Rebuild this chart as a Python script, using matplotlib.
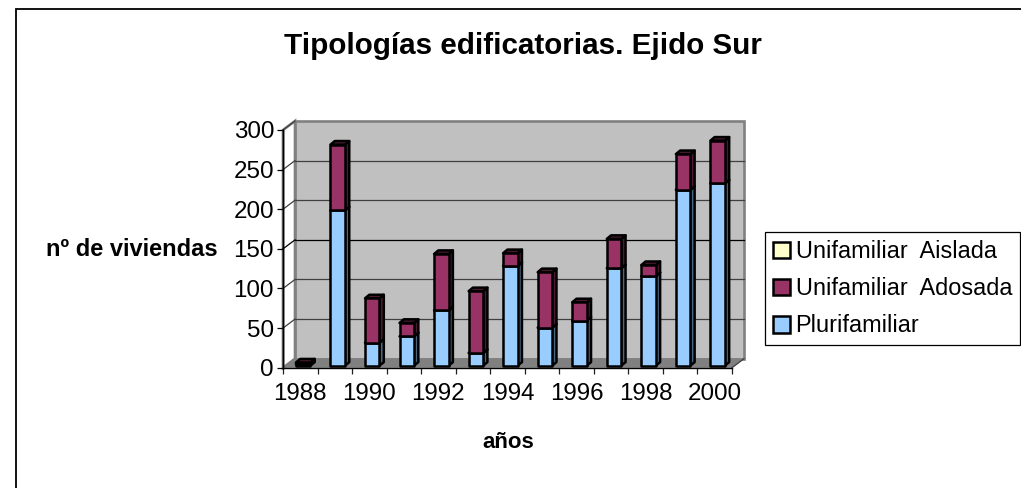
import matplotlib
matplotlib.use("Agg")
import matplotlib.pyplot as plt
from matplotlib.patches import Polygon, Rectangle, Patch
from matplotlib.transforms import IdentityTransform

plt.rcParams['font.family'] = ['Liberation Sans', 'DejaVu Sans']

years = list(range(1988, 2001))
plurifamiliar = [2, 196, 29, 37, 70, 16, 126, 48, 57, 123, 113, 222, 230]
adosada = [2, 83, 56, 17, 71, 78, 16, 70, 23, 37, 14, 45, 54]
aislada = [0] * 13
series = [("Plurifamiliar", plurifamiliar, "#99CCFF", "#4D6680"),
          ("Unifamiliar  Adosada", adosada, "#993366", "#4D1A33"),
          ("Unifamiliar  Aislada", aislada, "#FFFFCC", "#808066")]
y_ticks = [0, 50, 100, 150, 200, 250, 300]

W, H = 1021, 488
fig = plt.figure(figsize=(W / 100, H / 100), dpi=100, facecolor="white")
px = IdentityTransform()

# axes covers the front plane of the 3D box
L, R, T, B = 283, 732, 130, 367.7
ax = fig.add_axes([L / W, 1 - B / H, (R - L) / W, (B - T) / H])
ax.set_xlim(0, 13)
ax.set_ylim(0, 300)
ax.patch.set_visible(False)
for s in ("top", "right"):
    ax.spines[s].set_visible(False)
for s in ("left", "bottom"):
    ax.spines[s].set_linewidth(1.0)
    ax.spines[s].set_color("black")
    ax.spines[s].set_zorder(6)

WX, WY = 12, 9  # wall depth in pixels


def disp(x, y):
    return ax.transData.transform((x, y))


x0, y0 = disp(0, 0)
x1, y1 = disp(13, 300)
# back wall, floor and side wall
ax.add_patch(Polygon([(x0 + WX, y0 + WY), (x1 + WX, y0 + WY), (x1 + WX, y1 + WY), (x0 + WX, y1 + WY)],
                     closed=True, transform=px, fc="#C0C0C0", ec="#808080", lw=1.9, zorder=1, clip_on=False))
ax.add_patch(Polygon([(x0, y0), (x1, y0), (x1 + WX, y0 + WY), (x0 + WX, y0 + WY)],
                     closed=True, transform=px, fc="#808080", ec="#808080", lw=0.5, zorder=2, clip_on=False))
ax.add_patch(Polygon([(x0, y0), (x0 + WX, y0 + WY), (x0 + WX, y1 + WY), (x0, y1)],
                     closed=True, transform=px, fc="white", ec="#808080", lw=1.9, zorder=1, clip_on=False))
ax.plot([x0, x0], [y0, y1], color="black", lw=1.0, transform=px, zorder=6, clip_on=False)
# gridlines
for t in y_ticks[1:]:
    xa, ya = disp(0, t)
    xb, yb = disp(13, t)
    col = "black" if t == 150 else "#404040"
    if t < 300:
        ax.plot([xa + WX, xb + WX], [ya + WY, yb + WY], color=col, lw=0.9, transform=px, zorder=2, clip_on=False)
    ax.plot([xa, xa + WX], [ya, ya + WY], color=col, lw=0.9, transform=px, zorder=2, clip_on=False)
xa, ya = disp(13, 0)
ax.plot([xa, xa + WX], [ya, ya + WY], color="#404040", lw=0.9, transform=px, zorder=3, clip_on=False)

# bars: front face offset and depth in pixels
OX, OY = 2.9, 2.0
BW = 14.5
DX, DY = 4.3, 3.6
bottoms = [0] * 13
z = 3
for name, vals, col, dark in series:
    for i, v in enumerate(vals):
        if v == 0:
            continue
        cx, _ = disp(i + 0.5, 0)
        _, ya = disp(0, bottoms[i])
        _, yb = disp(0, bottoms[i] + v)
        xl = cx + OX - BW / 2
        xr = xl + BW
        ya += OY
        yb += OY
        kw = dict(closed=True, transform=px, ec="black", lw=1.8, joinstyle="round", clip_on=False, zorder=z)
        ax.add_patch(Polygon([(xr, ya), (xr + DX, ya + DY), (xr + DX, yb + DY), (xr, yb)], fc=dark, **kw))
        ax.add_patch(Polygon([(xl, yb), (xr, yb), (xr + DX, yb + DY), (xl + DX, yb + DY)], fc=dark, **kw))
        ax.add_patch(Polygon([(xl, ya), (xr, ya), (xr, yb), (xl, yb)], fc=col, **kw))
        bottoms[i] += v

# ticks
ax.set_yticks(y_ticks)
ax.set_xticks(range(14))
ax.set_xticklabels([])
ax.set_xticks([i + 0.5 for i in range(0, 13, 2)], [str(years[i]) for i in range(0, 13, 2)], minor=True)
ax.tick_params(axis="x", which="major", length=4, width=0.9, color="#202020")
ax.tick_params(axis="x", which="minor", length=0, labelsize=17.4, pad=11)
ax.tick_params(axis="y", length=4, width=0.9, labelsize=17.4, pad=2.5)

# chart frame
fig.add_artist(Rectangle((16, -20), 1100, H - 9 + 20, transform=px, fc="none", ec="black", lw=1.3))

# text
fig.text(523 / W, 1 - 46 / H, "Tipologías edificatorias. Ejido Sur", ha="center", va="center",
         fontsize=21.3, fontweight="bold")
fig.text(131.5 / W, 1 - 250 / H, "nº de viviendas", ha="center", va="center", fontsize=17, fontweight="bold")
fig.text(508.5 / W, 1 - 443 / H, "años", ha="center", va="center", fontsize=16, fontweight="bold")

# legend
handles = [Patch(fc=c, ec="black", lw=1.8, label=n) for n, _, c, _ in reversed(series)]
leg = fig.legend(handles=handles, loc="upper left", bbox_to_anchor=(765 / W, 1 - 232.5 / H),
                 fontsize=16.9, frameon=True, fancybox=False, edgecolor="black", framealpha=1,
                 borderpad=0.33, labelspacing=0.6, handlelength=0.72, handleheight=0.72,
                 handletextpad=0.25, borderaxespad=0)
leg.get_frame().set_linewidth(0.9)

fig.savefig("out.png", dpi=100)
